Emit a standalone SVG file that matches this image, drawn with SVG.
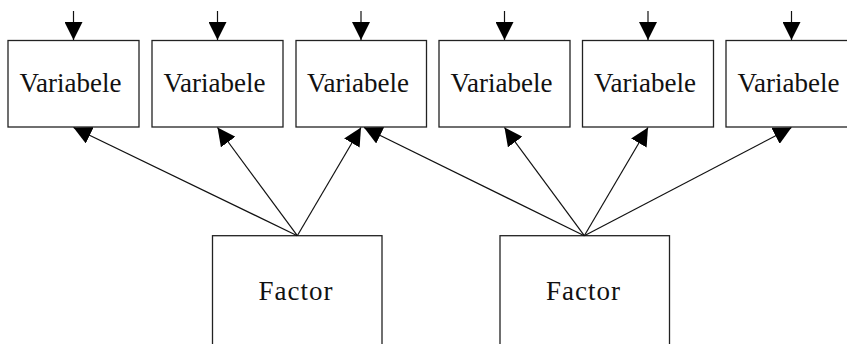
<svg xmlns="http://www.w3.org/2000/svg" width="847" height="344" viewBox="0 0 847 344">
<style>
.box{fill:#fff;stroke:#222;stroke-width:1.3}
.lbl{font-family:"Liberation Serif","Times New Roman",serif;font-size:27px;fill:#111;text-anchor:middle}
.fac{letter-spacing:1px}
.edge{stroke:#111;stroke-width:1.2;fill:none;marker-end:url(#ah)}
</style>
<defs>
<marker id="ah" markerUnits="userSpaceOnUse" markerWidth="18" markerHeight="18" viewBox="0 0 17 17" refX="17" refY="8.5" orient="auto">
<path d="M0,0 L17,8.5 L0,17 z" fill="#000"/>
</marker>
</defs>
<rect width="847" height="344" fill="#fff"/>
<g id="var1"><rect class="box" x="8" y="40.5" width="131" height="86.5"/><text class="lbl" x="70.5" y="92">Variabele</text></g>
<g id="var2"><rect class="box" x="152" y="40.5" width="131" height="86.5"/><text class="lbl" x="214.5" y="92">Variabele</text></g>
<g id="var3"><rect class="box" x="296" y="40.5" width="130.5" height="86.5"/><text class="lbl" x="358" y="92">Variabele</text></g>
<g id="var4"><rect class="box" x="439" y="40.5" width="131" height="86.5"/><text class="lbl" x="501.5" y="92">Variabele</text></g>
<g id="var5"><rect class="box" x="582.5" y="40.5" width="131" height="86.5"/><text class="lbl" x="645" y="92">Variabele</text></g>
<g id="var6"><rect class="box" x="726" y="40.5" width="131" height="86.5"/><text class="lbl" x="788.5" y="92">Variabele</text></g>
<g id="factor1"><rect class="box" x="212.5" y="235.7" width="169.5" height="120"/><text class="lbl fac" x="296" y="300">Factor</text></g>
<g id="factor2"><rect class="box" x="500" y="235.7" width="169.5" height="120"/><text class="lbl fac" x="583.5" y="300">Factor</text></g>
<g id="connectors">
<line class="edge" x1="73.5" y1="11" x2="73.5" y2="40"/>
<line class="edge" x1="217.5" y1="11" x2="217.5" y2="40"/>
<line class="edge" x1="361" y1="11" x2="361" y2="40"/>
<line class="edge" x1="504.5" y1="11" x2="504.5" y2="40"/>
<line class="edge" x1="648" y1="11" x2="648" y2="40"/>
<line class="edge" x1="791.5" y1="11" x2="791.5" y2="40"/>
<line class="edge" x1="297.3" y1="235.7" x2="73.5" y2="127.5"/>
<line class="edge" x1="297.3" y1="235.7" x2="217.5" y2="127.5"/>
<line class="edge" x1="297.3" y1="235.7" x2="361" y2="127.5"/>
<line class="edge" x1="584.3" y1="235.7" x2="364" y2="127.5"/>
<line class="edge" x1="584.3" y1="235.7" x2="504.5" y2="127.5"/>
<line class="edge" x1="584.3" y1="235.7" x2="648" y2="127.5"/>
<line class="edge" x1="584.3" y1="235.7" x2="791.5" y2="127.5"/>
</g>
</svg>
